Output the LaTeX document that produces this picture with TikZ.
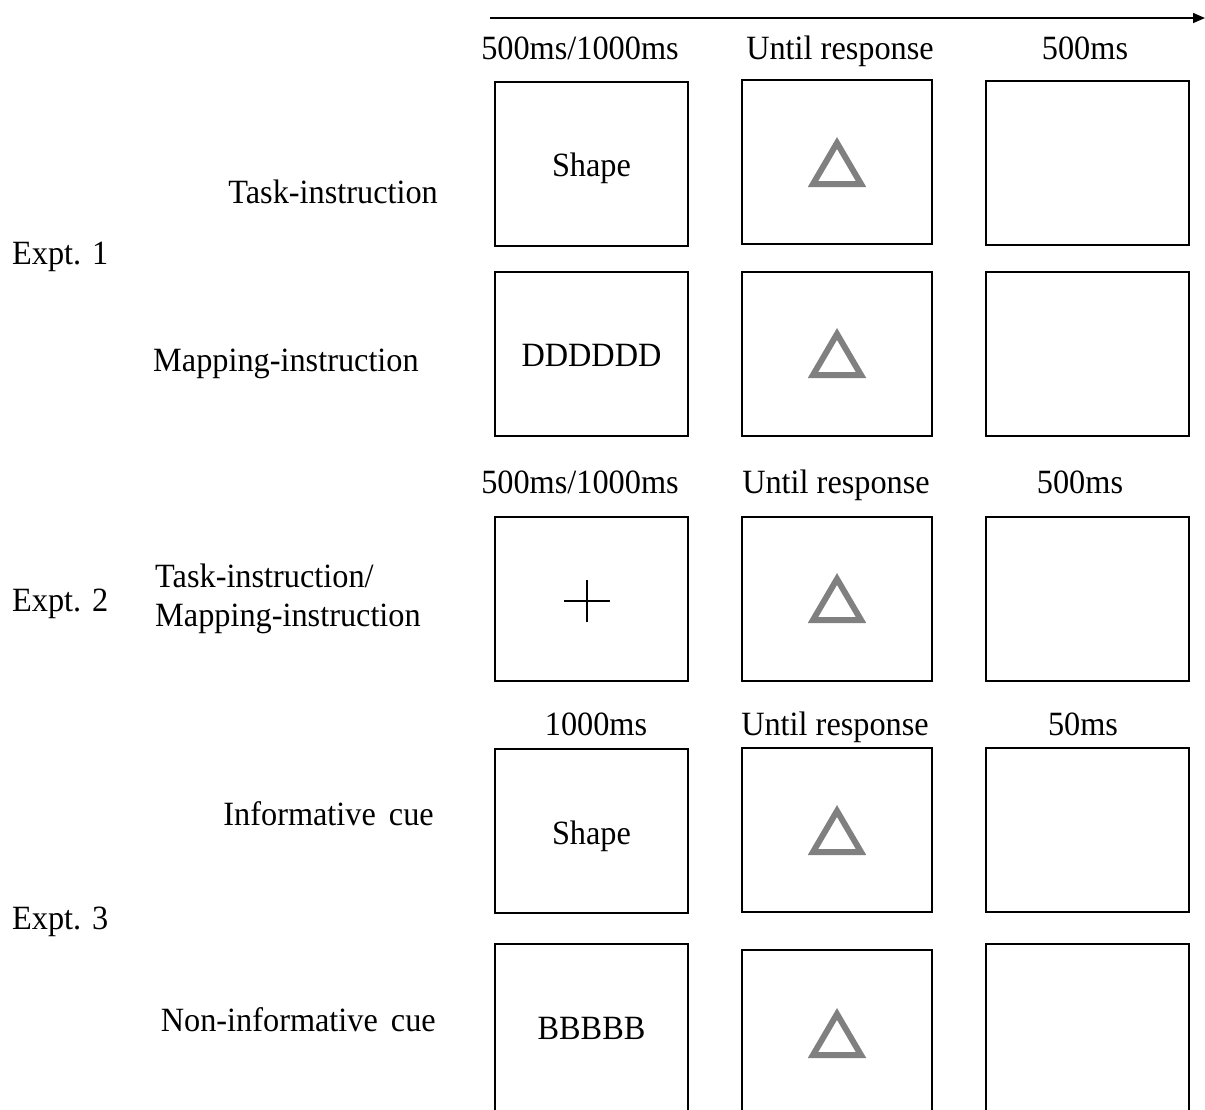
\documentclass[tikz,border=0pt]{standalone}
\usepackage{fontspec}
\setmainfont[FakeStretch=0.95]{Liberation Serif}
\usetikzlibrary{arrows.meta}
\begin{document}
\begin{tikzpicture}[x=1pt,y=-1pt,
  every node/.style={font=\fontsize{34}{40}\selectfont, inner sep=0pt},
  frame/.style={draw, line width=2pt, minimum height=164pt},
  colA/.style={frame, minimum width=193pt},
  colB/.style={frame, minimum width=190pt},
  colC/.style={frame, minimum width=203pt},
  lbl/.style={anchor=base},
  lblL/.style={anchor=base west},
  lblR/.style={anchor=base east},
  tri/.style={draw=black!50, line width=6pt, line join=miter},
  timeline/.style={line width=1.5pt, -{Triangle[length=12pt,width=10pt]}}]
\useasboundingbox (0,0) rectangle (1205,1109);
\clip (0,0) rectangle (1205,1109);

% time axis
\coordinate (t0) at (490,18);
\coordinate (t1) at (1205,18);
\draw[timeline] (t0) -- (t1);

% durations
\node[lbl] (h11) at (580,59) {500ms/1000ms};
\node[lbl] (h12) at (840,59) {Until response};
\node[lbl] (h13) at (1085,59) {500ms};
\node[lbl] (h31) at (580,493) {500ms/1000ms};
\node[lbl] (h32) at (836,493) {Until response};
\node[lbl] (h33) at (1080,493) {500ms};
\node[lbl] (h41) at (596,735) {1000ms};
\node[lbl] (h42) at (835,735) {Until response};
\node[lbl] (h43) at (1083,735) {50ms};

% row labels
\node[lblL] (e1) at (12,264) {Expt. 1};
\node[lblL] (e2) at (12,611) {Expt. 2};
\node[lblL] (e3) at (12,929) {Expt. 3};
\node[lblR] (l1) at (438,203) {Task-instruction};
\node[lblL] (l2) at (153,371) {Mapping-instruction};
\node[lblL] (l3a) at (155,587) {Task-instruction/};
\node[lblL] (l3b) at (155,626) {Mapping-instruction};
\node[lblR] (l4) at (434,825) {Informative\hspace{5pt} cue};
\node[lblR] (l5) at (436,1031) {Non-informative\hspace{5pt} cue};

% screens
\node[colA] (a1) at (591.5,163.5) {};
\node[colB] (b1) at (837,162) {};
\node[colC] (c1) at (1087.5,162.5) {};
\node[colA] (a2) at (591.5,354) {};
\node[colB] (b2) at (837,354) {};
\node[colC] (c2) at (1087.5,354) {};
\node[colA] (a3) at (591.5,599) {};
\node[colB] (b3) at (837,599) {};
\node[colC] (c3) at (1087.5,599) {};
\node[colA] (a4) at (591.5,831) {};
\node[colB] (b4) at (837,830) {};
\node[colC] (c4) at (1087.5,830) {};
% last row runs past the lower edge
\node[colA, minimum height=184pt] (a5) at (591.5,1036) {};
\node[colB, minimum height=184pt] (b5) at (837,1042) {};
\node[colC, minimum height=184pt] (c5) at (1087.5,1036) {};

% screen contents
\node[lbl] (s1) at (591.5,176) {Shape};
\node[lbl] (s2) at (591.5,366) {DDDDDD};
\node[lbl] (s4) at (591.5,844) {Shape};
\node[lbl] (s5) at (591.5,1039) {BBBBB};

% fixation cross
\coordinate (fx) at (587,601);
\draw[line width=1.5pt] ([xshift=-23pt]fx) -- ([xshift=23pt]fx)
                        ([yshift=-21pt]fx) -- ([yshift=21pt]fx);

% target triangles
\foreach \r/\yy in {1/165, 2/356, 3/601, 4/833, 5/1036} {
  \coordinate (tr\r) at (837,\yy);
  \draw[tri] ([shift={(0,-22)}]tr\r) -- ([shift={(24,19)}]tr\r)
             -- ([shift={(-24,19)}]tr\r) -- cycle;
}
\end{tikzpicture}
\end{document}
